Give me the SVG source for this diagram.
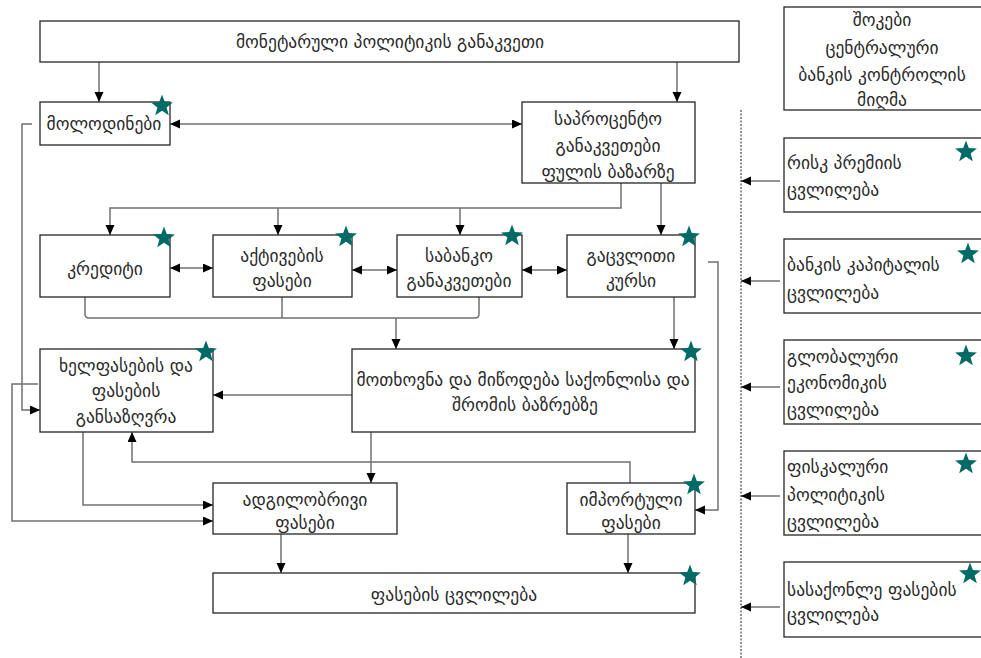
<svg xmlns="http://www.w3.org/2000/svg" width="981" height="658" viewBox="0 0 981 658">
<style>
.box{fill:#fff;stroke:#262626;stroke-width:1.3}
.t{font-family:"DejaVu Sans","Noto Sans",sans-serif;font-size:17.5px;fill:#2a2a2a;text-anchor:middle;dominant-baseline:central}
.tl{font-family:"DejaVu Sans","Noto Sans",sans-serif;font-size:17.5px;fill:#2a2a2a;text-anchor:start;dominant-baseline:central}
.c{fill:none;stroke:#707070;stroke-width:1.5}
.a{marker-end:url(#ah)}
.d{marker-start:url(#ah);marker-end:url(#ah)}
.star{fill:#006b66}
</style>
<defs>
<marker id="ah" markerUnits="userSpaceOnUse" markerWidth="11" markerHeight="10" refX="10" refY="4.5" orient="auto-start-reverse"><path d="M0,0 L10,4.5 L0,9 z" fill="#000"/></marker>
<path id="star" d="M0,-11.5 L2.8,-3.9 L10.9,-3.6 L4.6,1.5 L6.8,9.3 L0,4.8 L-6.8,9.3 L-4.6,1.5 L-10.9,-3.6 L-2.8,-3.9 Z"/>
</defs>
<rect width="981" height="658" fill="#fff"/>
<g id="connectors">
<path class="c a" d="M99,62 V102"/>
<path class="c a" d="M677,62 V102"/>
<path class="c d" d="M170,124 H522"/>
<path class="c a" d="M32,124 H22 V410 H40"/>
<path class="c a" d="M621,183 V208 H110 V235"/>
<path class="c a" d="M278,208 V235"/>
<path class="c a" d="M460,208 V235"/>
<path class="c a" d="M661,183 V235"/>
<path class="c d" d="M170,268 H213"/>
<path class="c d" d="M352,270 H397"/>
<path class="c d" d="M522,270 H567"/>
<path class="c" d="M85,297 V314 Q85,318 89,318 H475 Q479,318 479,314 V297"/>
<path class="c" d="M282,297 V318"/>
<path class="c a" d="M396,318 V349"/>
<path class="c a" d="M674,297 V349"/>
<path class="c a" d="M352,395 H213"/>
<path class="c a" d="M708,262 H718 V510 H695"/>
<path class="c a" d="M38,384 H12 V521 H213"/>
<path class="c a" d="M83,432 V505 H213"/>
<path class="c a" d="M630,483 V462 H132 V432"/>
<path class="c a" d="M371,432 V483"/>
<path class="c a" d="M281,534 V573"/>
<path class="c a" d="M628,534 V573"/>
<path class="c a" d="M780,181 H741"/>
<path class="c a" d="M780,281 H741"/>
<path class="c a" d="M780,387 H741"/>
<path class="c a" d="M780,496 H741"/>
<path class="c a" d="M780,607 H741"/>
<path d="M741,110 V658" fill="none" stroke="#222" stroke-width="1" stroke-dasharray="2,1.5"/>
</g>
<g id="n-monetary"><rect class="box" x="40" y="21" width="699" height="41"/><text class="t" x="390" y="42">მონეტარული პოლიტიკის განაკვეთი</text></g>
<g id="n-expect"><rect class="box" x="40" y="102" width="130" height="43"/><text class="t" x="104" y="124">მოლოდინები</text><use href="#star" class="star" x="162" y="106"/></g>
<g id="n-interest"><rect class="box" x="522" y="102" width="173" height="81"/><text class="t" x="608" y="119">საპროცენტო</text><text class="t" x="608" y="146">განაკვეთები</text><text class="t" x="608" y="172">ფულის ბაზარზე</text></g>
<g id="n-credit"><rect class="box" x="40" y="235" width="130" height="62"/><text class="t" x="105" y="269">კრედიტი</text><use href="#star" class="star" x="164" y="238"/></g>
<g id="n-assets"><rect class="box" x="213" y="235" width="139" height="62"/><text class="t" x="282" y="256">აქტივების</text><text class="t" x="282" y="281">ფასები</text><use href="#star" class="star" x="346" y="237"/></g>
<g id="n-bank"><rect class="box" x="397" y="235" width="125" height="62"/><text class="t" x="459" y="256">საბანკო</text><text class="t" x="459" y="281">განაკვეთები</text><use href="#star" class="star" x="512" y="236"/></g>
<g id="n-exchange"><rect class="box" x="567" y="235" width="128" height="62"/><text class="t" x="631" y="256">გაცვლითი</text><text class="t" x="631" y="281">კურსი</text><use href="#star" class="star" x="689" y="237"/></g>
<g id="n-wages"><rect class="box" x="40" y="349" width="173" height="83"/><text class="t" x="126" y="366">ხელფასების და</text><text class="t" x="126" y="391">ფასების</text><text class="t" x="126" y="417">განსაზღვრა</text><use href="#star" class="star" x="206" y="352"/></g>
<g id="n-demand"><rect class="box" x="352" y="349" width="343" height="83"/><text class="t" x="523" y="380">მოთხოვნა და მიწოდება საქონლისა და</text><text class="t" x="525" y="405">შრომის ბაზრებზე</text><use href="#star" class="star" x="691" y="352"/></g>
<g id="n-domestic"><rect class="box" x="213" y="483" width="184" height="51"/><text class="t" x="305" y="500">ადგილობრივი</text><text class="t" x="305" y="523">ფასები</text></g>
<g id="n-import"><rect class="box" x="567" y="483" width="128" height="51"/><text class="t" x="631" y="500">იმპორტული</text><text class="t" x="631" y="523">ფასები</text><use href="#star" class="star" x="694" y="485"/></g>
<g id="n-prices"><rect class="box" x="213" y="573" width="482" height="40"/><text class="t" x="454" y="595">ფასების ცვლილება</text><use href="#star" class="star" x="690" y="576"/></g>
<g id="n-shocks"><rect class="box" x="784" y="7" width="200" height="103"/><text class="t" x="882" y="20">შოკები</text><text class="t" x="882" y="48">ცენტრალური</text><text class="t" x="882" y="75">ბანკის კონტროლის</text><text class="t" x="882" y="100">მიღმა</text></g>
<g id="n-risk"><rect class="box" x="784" y="138" width="200" height="74"/><text class="tl" x="787" y="163">რისკ პრემიის</text><text class="tl" x="787" y="190">ცვლილება</text><use href="#star" class="star" x="966" y="152"/></g>
<g id="n-capital"><rect class="box" x="784" y="239" width="200" height="74"/><text class="tl" x="787" y="265">ბანკის კაპიტალის</text><text class="tl" x="787" y="293">ცვლილება</text><use href="#star" class="star" x="968" y="254"/></g>
<g id="n-global"><rect class="box" x="784" y="340" width="200" height="84"/><text class="tl" x="787" y="357">გლობალური</text><text class="tl" x="787" y="383">ეკონომიკის</text><text class="tl" x="787" y="410">ცვლილება</text><use href="#star" class="star" x="966" y="356"/></g>
<g id="n-fiscal"><rect class="box" x="784" y="451" width="200" height="84"/><text class="tl" x="787" y="467">ფისკალური</text><text class="tl" x="787" y="495">პოლიტიკის</text><text class="tl" x="787" y="522">ცვლილება</text><use href="#star" class="star" x="966" y="464"/></g>
<g id="n-commodity"><rect class="box" x="784" y="562" width="200" height="75"/><text class="tl" x="787" y="590">სასაქონლე ფასების</text><text class="tl" x="787" y="615">ცვლილება</text><use href="#star" class="star" x="970" y="574"/></g>
</svg>
